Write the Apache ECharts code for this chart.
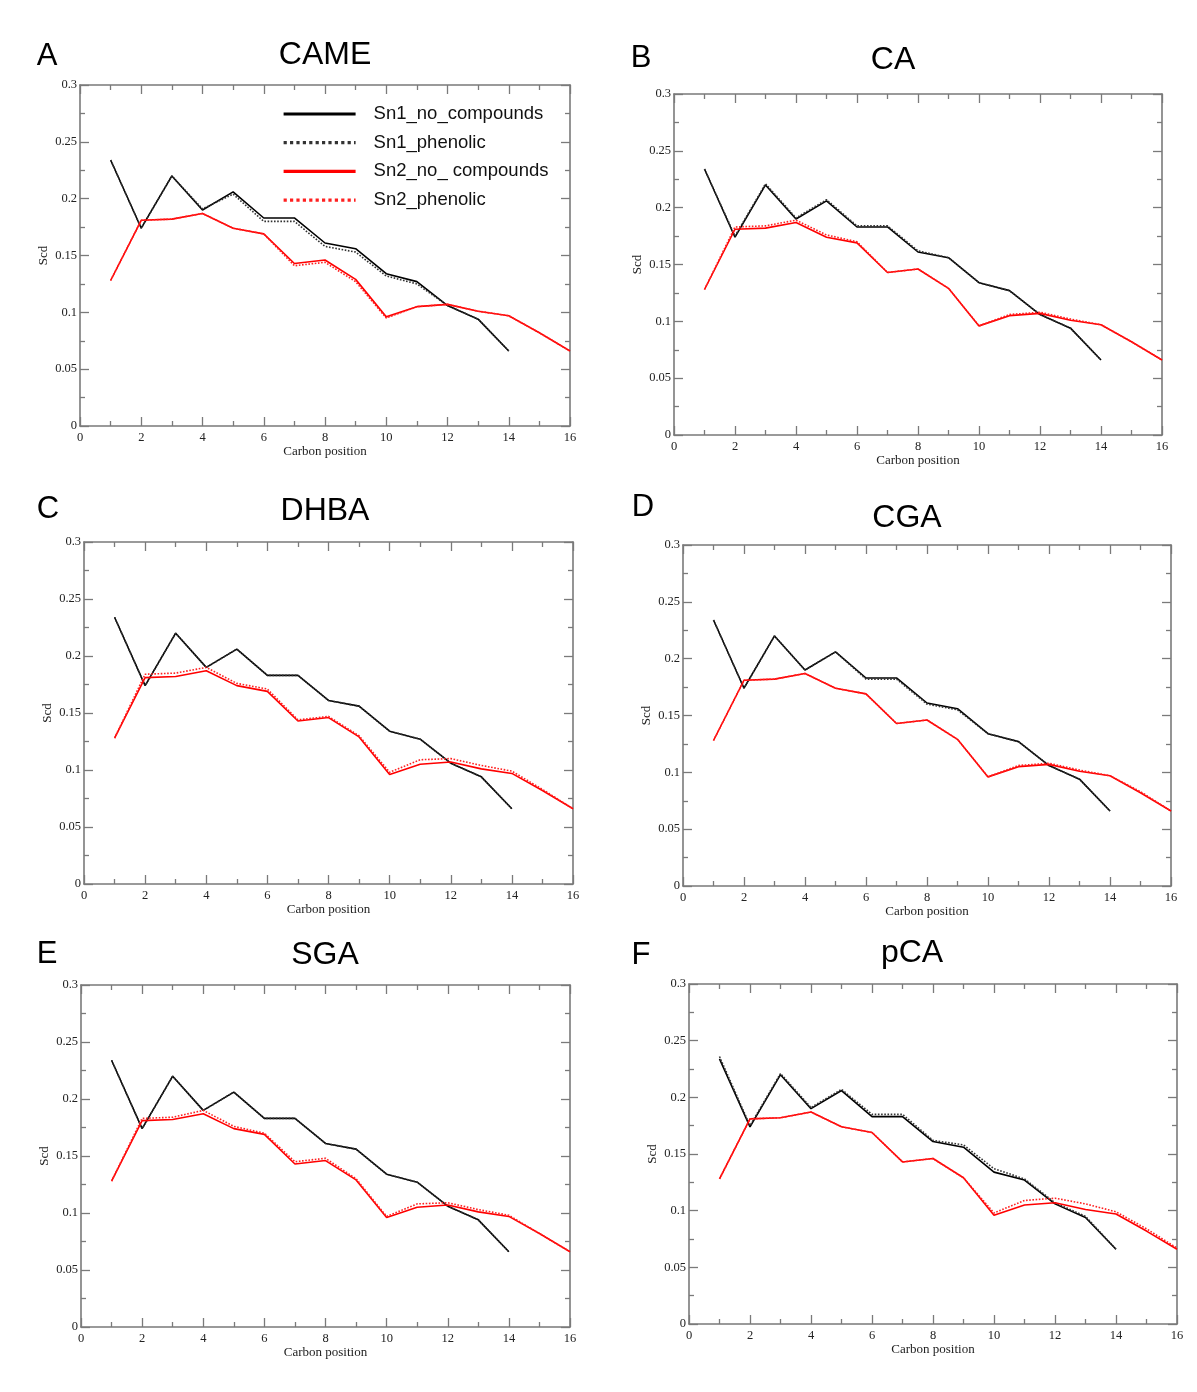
<!DOCTYPE html>
<html>
<head>
<meta charset="utf-8">
<title>Scd order parameters</title>
<script src="https://cdn.jsdelivr.net/npm/echarts@6/dist/echarts.min.js"></script>
<style>
  html, body { margin: 0; padding: 0; background: #fff; }
  #chart { width: 1197px; height: 1392px; }
</style>
</head>
<body>
<div id="chart"></div>
<script>
// panels
var panelLetters = ['A', 'B', 'C', 'D', 'E', 'F']
var panelTitles = ['CAME', 'CA', 'DHBA', 'CGA', 'SGA', 'pCA']
var seriesNames = ['Sn1_no_compounds', 'Sn1_phenolic', 'Sn2_no_ compounds', 'Sn2_phenolic']

// carbon positions
var carbonSn1 = [1, 2, 3, 4, 5, 6, 7, 8, 9, 10, 11, 12, 13, 14]
var carbonSn2 = [1, 2, 3, 4, 5, 6, 7, 8, 9, 10, 11, 12, 13, 14, 15, 16]

// reference (no compounds), same in every panel
var sn1NoCompounds = [0.234, 0.174, 0.220, 0.190, 0.206, 0.183, 0.183, 0.161, 0.156, 0.134, 0.127, 0.106, 0.094, 0.066]
var sn2NoCompounds = [0.128, 0.181, 0.182, 0.187, 0.174, 0.169, 0.143, 0.146, 0.129, 0.096, 0.105, 0.107, 0.101, 0.097, 0.082, 0.066]

// with phenolic compound, one row per panel
var sn1Phenolic = [
  [0.234, 0.174, 0.220, 0.191, 0.204, 0.180, 0.180, 0.158, 0.153, 0.132, 0.125, 0.106, 0.094, 0.066],
  [0.234, 0.175, 0.221, 0.191, 0.207, 0.184, 0.184, 0.162, 0.156, 0.134, 0.127, 0.106, 0.094, 0.066],
  [0.234, 0.174, 0.220, 0.190, 0.206, 0.183, 0.183, 0.161, 0.156, 0.134, 0.127, 0.106, 0.094, 0.066],
  [0.234, 0.174, 0.220, 0.190, 0.206, 0.182, 0.182, 0.160, 0.155, 0.134, 0.127, 0.106, 0.094, 0.066],
  [0.234, 0.174, 0.220, 0.190, 0.206, 0.183, 0.183, 0.161, 0.156, 0.134, 0.127, 0.106, 0.094, 0.066],
  [0.236, 0.175, 0.221, 0.191, 0.207, 0.185, 0.185, 0.162, 0.158, 0.137, 0.128, 0.107, 0.095, 0.066]
]
var sn2Phenolic = [
  [0.128, 0.181, 0.182, 0.187, 0.174, 0.169, 0.141, 0.144, 0.127, 0.095, 0.105, 0.107, 0.101, 0.097, 0.082, 0.066],
  [0.128, 0.183, 0.184, 0.189, 0.176, 0.170, 0.143, 0.146, 0.129, 0.096, 0.106, 0.108, 0.102, 0.097, 0.082, 0.066],
  [0.128, 0.184, 0.185, 0.190, 0.176, 0.171, 0.144, 0.147, 0.130, 0.098, 0.109, 0.110, 0.104, 0.099, 0.083, 0.066],
  [0.128, 0.181, 0.182, 0.187, 0.174, 0.169, 0.143, 0.146, 0.129, 0.096, 0.106, 0.108, 0.102, 0.097, 0.083, 0.066],
  [0.128, 0.183, 0.184, 0.190, 0.176, 0.170, 0.145, 0.148, 0.130, 0.097, 0.108, 0.109, 0.103, 0.098, 0.082, 0.066],
  [0.128, 0.181, 0.182, 0.187, 0.174, 0.169, 0.143, 0.146, 0.129, 0.098, 0.109, 0.111, 0.106, 0.099, 0.084, 0.067]
]

// axis ranges
var xMin = 0, xMax = 16, xStep = 2
var yMin = 0, yMax = 0.3, yStep = 0.05

// plot boxes [left, top, width, height] and heading spots
var gridBoxes = [
  [80, 85, 490, 341], [674, 94, 488, 341],
  [84, 542, 489, 342], [683, 545, 488, 341],
  [81, 985, 489, 342], [689, 984, 488, 340]
]
var letterPos = [[47, 56], [641, 58], [48, 509], [643, 507], [47, 954], [641, 955]]
var titlePos = [[325, 55], [893, 60], [325, 511], [907, 518], [325, 955], [912, 953]]

var serif = '"Liberation Serif", "DejaVu Serif", serif'
var sans = '"Liberation Sans", Arial, sans-serif'
var frameColor = '#7a7a7a'

function pairs (xs, ys) {
  return xs.map(function (x, i) { return [x, ys[i]] })
}

function axisCommon (showLabel) {
  return {
    axisLine: { show: true, onZero: false, lineStyle: { color: frameColor, width: 1.6 } },
    axisTick: { show: true, inside: true, length: 9, lineStyle: { color: frameColor, width: 1.3 } },
    minorTick: { show: true, splitNumber: 2, length: 5, lineStyle: { color: frameColor, width: 1.3 } },
    splitLine: { show: false },
    axisLabel: { show: showLabel, fontFamily: serif, fontSize: 12.5, color: '#222' }
  }
}

var grids = [], xAxes = [], yAxes = [], series = [], graphics = []

gridBoxes.forEach(function (b, i) {
  grids.push({ left: b[0], top: b[1], width: b[2], height: b[3] })

  var xb = axisCommon(true)
  xb.type = 'value'; xb.gridIndex = i; xb.position = 'bottom'
  xb.min = xMin; xb.max = xMax; xb.interval = xStep
  xb.axisLabel.margin = 5
  xb.name = 'Carbon position'; xb.nameLocation = 'middle'; xb.nameGap = 19
  xb.nameTextStyle = { fontFamily: serif, fontSize: 13, color: '#222' }
  xAxes.push(xb)

  var xt = axisCommon(false)
  xt.type = 'value'; xt.gridIndex = i; xt.position = 'top'
  xt.min = xMin; xt.max = xMax; xt.interval = xStep
  xAxes.push(xt)

  var yl = axisCommon(true)
  yl.type = 'value'; yl.gridIndex = i; yl.position = 'left'
  yl.min = yMin; yl.max = yMax; yl.interval = yStep
  yl.axisLabel.margin = 3
  yl.name = 'Scd'; yl.nameLocation = 'middle'; yl.nameGap = 30
  yl.nameTextStyle = { fontFamily: serif, fontSize: 13, color: '#222' }
  yAxes.push(yl)

  var yr = axisCommon(false)
  yr.type = 'value'; yr.gridIndex = i; yr.position = 'right'
  yr.min = yMin; yr.max = yMax; yr.interval = yStep
  yAxes.push(yr)

  var lines = [
    { name: seriesNames[0], data: pairs(carbonSn1, sn1NoCompounds), color: '#000', type: 'solid' },
    { name: seriesNames[1], data: pairs(carbonSn1, sn1Phenolic[i]), color: '#333', type: 'dotted' },
    { name: seriesNames[2], data: pairs(carbonSn2, sn2NoCompounds), color: '#ff0000', type: 'solid' },
    { name: seriesNames[3], data: pairs(carbonSn2, sn2Phenolic[i]), color: '#ff2020', type: 'dotted' }
  ]
  lines.forEach(function (l) {
    series.push({
      name: l.name,
      type: 'line',
      xAxisIndex: 2 * i,
      yAxisIndex: 2 * i,
      data: l.data,
      symbol: 'none',
      color: l.color,
      lineStyle: { color: l.color, width: 1.6, type: l.type }
    })
  })

  graphics.push({
    type: 'text', x: letterPos[i][0], y: letterPos[i][1],
    style: { text: panelLetters[i], font: '31px ' + sans, fill: '#000', textAlign: 'center', textVerticalAlign: 'middle' }
  })
  graphics.push({
    type: 'text', x: titlePos[i][0], y: titlePos[i][1],
    style: { text: panelTitles[i], font: '32px ' + sans, fill: '#000', textAlign: 'center', textVerticalAlign: 'middle' }
  })
})

var chart = echarts.init(document.getElementById('chart'))
chart.setOption({
  animation: false,
  backgroundColor: '#fff',
  grid: grids,
  xAxis: xAxes,
  yAxis: yAxes,
  legend: {
    data: seriesNames,
    orient: 'vertical',
    left: 282,
    top: 104,
    padding: 0,
    itemWidth: 72,
    itemHeight: 14,
    itemGap: 8.7,
    selectedMode: false,
    itemStyle: { opacity: 0 },
    lineStyle: { width: 3.2 },
    textStyle: { fontFamily: sans, fontSize: 18.5, color: '#111', lineHeight: 20, padding: [0, 0, 0, 13] }
  },
  graphic: graphics,
  series: series
})
</script>
</body>
</html>
